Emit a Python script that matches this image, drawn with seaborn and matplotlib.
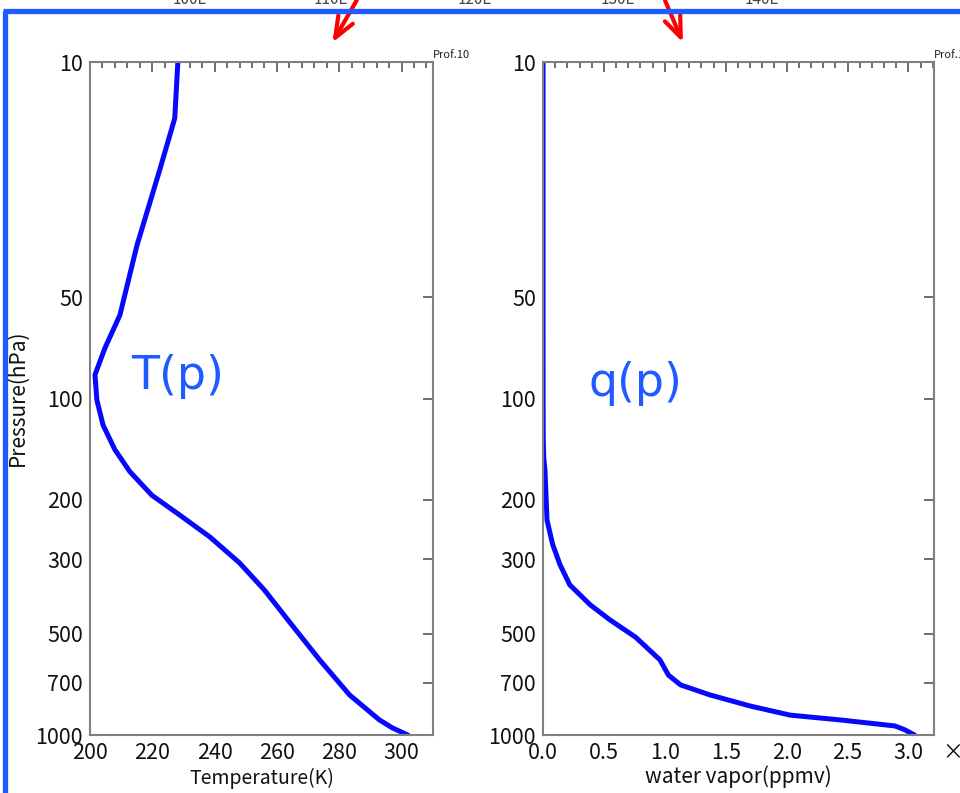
import numpy as np
import matplotlib
matplotlib.use("Agg")
import matplotlib.pyplot as plt
import matplotlib.ticker as mticker
import seaborn as sns
import pandas as pd

# ---------------- data ----------------
temp_K = [228.2, 227.2, 222.4, 215.1, 209.6, 204.8, 201.6, 202.2, 204.2, 208.0,
          212.8, 219.9, 228.8, 238.5, 248.0, 256.0, 264.0, 273.7, 283.3, 292.9,
          297.1, 302.0]
temp_p = [10, 14.7, 20.9, 35, 56.5, 70.8, 85, 101, 120, 142,
          165, 194, 222, 258, 308, 371, 461, 598, 760, 902,
          953, 1000]

wv_ppmv = [0.0003, 0.0003, 0.0004, 0.0008, 0.002, 0.006, 0.016, 0.033, 0.08, 0.14,
           0.22, 0.39, 0.55, 0.76, 0.96, 1.03, 1.13, 1.37, 1.70, 2.03,
           2.44, 2.89, 2.97, 3.05]
wv_p = [10, 30, 60, 100, 130, 150, 163, 230, 272, 312,
        358, 411, 455, 512, 598, 664, 710, 760, 820, 873,
        902, 940, 965, 1000]

p_ticks = [10, 50, 100, 200, 300, 500, 700, 1000]
map_labels = ["100E", "110E", "120E", "130E", "140E"]

df_t = pd.DataFrame({"T": temp_K, "p": temp_p})
df_q = pd.DataFrame({"q": wv_ppmv, "p": wv_p})

sns.set_style("white")
FONT = ["Noto Sans CJK SC", "DejaVu Sans"]
plt.rcParams["font.family"] = FONT

W, H = 960, 793
fig = plt.figure(figsize=(W / 100, H / 100), dpi=100)


def fx(px):
    return px / W


def fy(py):
    return 1 - py / H


y_top, y_bot = 62, 735
ax1 = fig.add_axes([fx(90), fy(y_bot), fx(432.7 - 90), (y_bot - y_top) / H])
ax2 = fig.add_axes([fx(543), fy(y_bot), fx(934 - 543), (y_bot - y_top) / H])

line_col = "#0808ff"
sns.lineplot(data=df_t, x="T", y="p", sort=False, estimator=None, ax=ax1,
             color=line_col, linewidth=3.6)
sns.lineplot(data=df_q, x="q", y="p", sort=False, estimator=None, ax=ax2,
             color=line_col, linewidth=3.6)

for ax, xlim, maj, mnr in [(ax1, (200, 310), 20, 4), (ax2, (0, 3.21), 0.5, 0.1)]:
    ax.set_yscale("log")
    ax.set_ylim(1000, 10)
    ax.set_xlim(*xlim)
    ax.yaxis.set_major_locator(mticker.FixedLocator(p_ticks))
    ax.yaxis.set_major_formatter(mticker.FixedFormatter([str(v) for v in p_ticks]))
    ax.yaxis.set_minor_locator(mticker.NullLocator())
    ax.xaxis.set_major_locator(mticker.MultipleLocator(maj))
    ax.xaxis.set_minor_locator(mticker.MultipleLocator(mnr))
    ax.tick_params(which="both", direction="in", top=True, right=True,
                   color="#555555", width=1.2)
    ax.tick_params(which="major", length=7, labelsize=15.5, pad=5)
    ax.tick_params(which="minor", length=4)
    for s in ax.spines.values():
        s.set_color("#808080")
        s.set_linewidth(1.5)
    ax.set_xlabel("")
    ax.set_ylabel("")
    for lbl in ax.get_xticklabels() + ax.get_yticklabels():
        lbl.set_color("#111111")

ax2.xaxis.set_major_formatter(mticker.FormatStrFormatter("%.1f"))

fig.text(fx(262), fy(778), "Temperature(K)", ha="center", va="center",
         fontsize=14, color="#111111")
fig.text(fx(738), fy(777), "water vapor(ppmv)", ha="center", va="center",
         fontsize=15, color="#111111")
fig.text(fx(18), fy(398), "Pressure(hPa)", ha="center", va="center",
         rotation=90, fontsize=15, color="#111111")
fig.text(fx(942), fy(752), "×", ha="left", va="center", fontsize=15,
         color="#111111")
fig.text(fx(433), fy(55), "Prof.10", ha="left", va="center", fontsize=8,
         color="#222222")
fig.text(fx(934), fy(55), "Prof.10", ha="left", va="center", fontsize=8,
         color="#222222")

blue = "#1f5bff"
fig.text(fx(178), fy(376), "T(p)", ha="center", va="center", fontsize=33,
         color=blue, family=["DejaVu Sans"])
fig.text(fx(635), fy(384), "q(p)", ha="center", va="center", fontsize=33,
         color=blue, family=["DejaVu Sans"])

# map labels (cut at top edge)
for lab, px in zip(map_labels, [190, 331, 475, 618, 762]):
    fig.text(fx(px), fy(0), lab, ha="center", va="center", fontsize=11,
             color="#444444")

# blue frame
fig.add_artist(plt.Line2D([fx(5), fx(5)], [fy(11), 0], color=blue, lw=3.8,
                          transform=fig.transFigure, solid_capstyle="butt"))
fig.add_artist(plt.Line2D([fx(3), 1], [fy(10.5), fy(10.5)], color=blue, lw=3.8,
                          transform=fig.transFigure, solid_capstyle="butt"))

# red arrows
for (x0, y0), (x1, y1) in [((358, -2), (331, 45)), ((664, -2), (684, 45))]:
    fig.add_artist(matplotlib.patches.FancyArrowPatch(
        (fx(x0), fy(y0)), (fx(x1), fy(y1)), transform=fig.transFigure,
        arrowstyle="->,head_length=10,head_width=4", color="#ff0000", lw=3,
        mutation_scale=1.5))

fig.savefig("out.png", dpi=100)
